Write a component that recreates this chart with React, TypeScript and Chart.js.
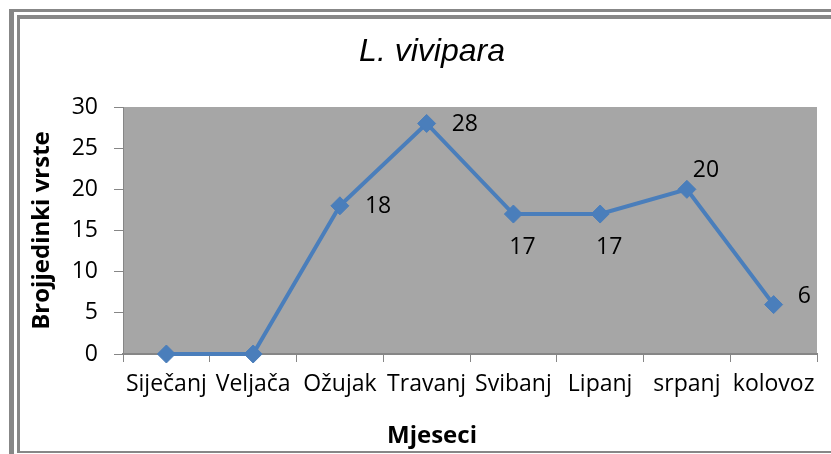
import React, { useEffect, useRef } from "react";
import { Chart, registerables } from "chart.js";

Chart.register(...registerables);

const categories = ["Siječanj", "Veljača", "Ožujak", "Travanj", "Svibanj", "Lipanj", "srpanj", "kolovoz"];
const counts = [0, 0, 18, 28, 17, 17, 20, 6];
const labelSpots = ["none", "none", "right", "right", "below", "below", "aboveRight", "rightUp"];
const chartTitle = "L. vivipara";
const xTitle = "Mjeseci";
const yTitle = "Brojjedinki vrste";

const LINE = "#4a7ebb";
const FRAME = "#878787";
const PLOT_BG = "#a6a6a6";
const AXIS = "#868686";
const FONT = "'Open Sans', 'DejaVu Sans', sans-serif";

const spotOffsets: Record<string, { dx: number; dy: number; align: CanvasTextAlign }> = {
  right: { dx: 25, dy: 1, align: "left" },
  rightUp: { dx: 24, dy: -8, align: "left" },
  below: { dx: 9, dy: 33, align: "center" },
  aboveRight: { dx: 19, dy: -19, align: "center" },
};

const backgroundPlugin = {
  id: "bgFrame",
  beforeDraw(chart: any) {
    const { ctx, chartArea, width, height } = chart;
    ctx.save();
    ctx.fillStyle = "#ffffff";
    ctx.fillRect(0, 0, width, height);
    ctx.fillStyle = FRAME;
    // outer frame
    ctx.fillRect(9, 9, 5, height - 9);
    ctx.fillRect(9, 9, width - 9, 3);
    // inner frame
    ctx.fillRect(17, 15, 3, 438);
    ctx.fillRect(17, 15, width - 17, 4);
    ctx.fillRect(17, 451, width - 17, 2);
    ctx.fillStyle = PLOT_BG;
    ctx.fillRect(chartArea.left, chartArea.top, chartArea.right - chartArea.left, chartArea.bottom - chartArea.top);
    ctx.restore();
  },
};

const labelPlugin = {
  id: "pointLabels",
  afterDatasetsDraw(chart: any) {
    const { ctx } = chart;
    const meta = chart.getDatasetMeta(0);
    ctx.save();
    ctx.font = `23px ${FONT}`;
    ctx.fillStyle = "#000000";
    ctx.textBaseline = "middle";
    meta.data.forEach((pt: any, i: number) => {
      const spot = spotOffsets[labelSpots[i]];
      if (!spot) return;
      ctx.textAlign = spot.align;
      ctx.fillText(String(counts[i]), pt.x + spot.dx, pt.y + spot.dy);
    });
    ctx.restore();
  },
};

export default function App() {
  const ref = useRef<HTMLCanvasElement | null>(null);

  useEffect(() => {
    document.body.style.margin = "0";
    if (!ref.current) return;
    const chart = new Chart(ref.current, {
      type: "line",
      data: {
        labels: categories,
        datasets: [
          {
            data: counts,
            borderColor: LINE,
            backgroundColor: LINE,
            borderWidth: 4,
            pointStyle: "rectRot",
            pointRadius: 9,
            pointBackgroundColor: LINE,
            pointBorderColor: LINE,
            pointBorderWidth: 1,
            tension: 0,
            clip: false,
          },
        ],
      },
      options: {
        animation: false,
        responsive: false,
        devicePixelRatio: 1,
        layout: { padding: { left: 47, right: 47, top: 0, bottom: 0 } },
        plugins: {
          legend: { display: false },
          tooltip: { enabled: false },
          title: {
            display: true,
            text: chartTitle,
            color: "#000000",
            font: { family: "'Liberation Sans', Arial, sans-serif", size: 32, style: "italic", weight: "normal" },
            padding: { top: 33, bottom: 35.6 },
          },
          subtitle: {
            display: true,
            position: "bottom",
            text: xTitle,
            color: "#000000",
            font: { family: FONT, size: 24, weight: "bold" },
            padding: { top: 18.2, bottom: 3 },
          },
        },
        scales: {
          x: {
            type: "category",
            offset: true,
            grid: {
              offset: true,
              drawOnChartArea: false,
              drawTicks: true,
              tickLength: 8,
              color: AXIS,
              lineWidth: 1,
            },
            border: { display: true, color: AXIS, width: 2 },
            ticks: {
              color: "#000000",
              font: { family: FONT, size: 23 },
              padding: 9,
              maxRotation: 0,
              autoSkip: false,
            },
            afterFit: (scale: any) => {
              scale.height = 50;
            },
          },
          y: {
            min: 0,
            max: 30,
            grid: {
              drawOnChartArea: false,
              drawTicks: true,
              tickLength: 9,
              color: AXIS,
              lineWidth: 1,
            },
            border: { display: true, color: AXIS, width: 1 },
            ticks: {
              stepSize: 5,
              color: "#000000",
              font: { family: FONT, size: 23 },
              padding: 16,
            },
            title: {
              display: true,
              text: yTitle,
              color: "#000000",
              font: { family: FONT, size: 24, weight: "bold" },
              padding: { top: -19.4, bottom: 0 },
            },
            afterFit: (scale: any) => {
              scale.width = 76;
            },
          },
        },
      },
      plugins: [backgroundPlugin, labelPlugin],
    });
    return () => chart.destroy();
  }, []);

  return (
    <div style={{ position: "relative", width: 831, height: 454, overflow: "hidden" }}>
      <canvas ref={ref} width={864} height={454} style={{ display: "block" }} />
    </div>
  );
}
